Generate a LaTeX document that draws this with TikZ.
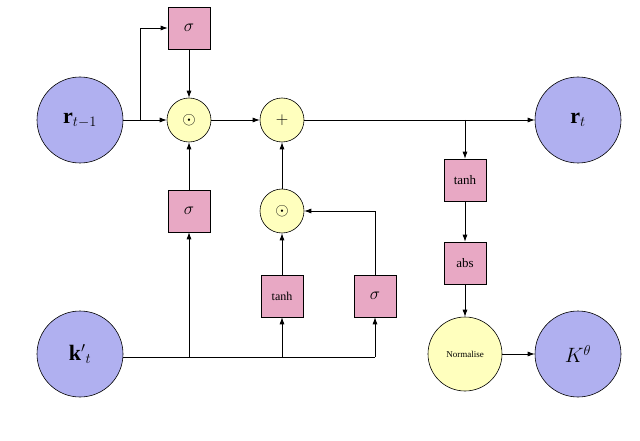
\documentclass[tikz,border=0pt]{standalone}
\usepackage{fontspec}
\setmainfont{Liberation Serif}
\usetikzlibrary{arrows.meta}
\definecolor{lav}{RGB}{176,176,240}
\definecolor{pinkb}{RGB}{232,168,196}
\definecolor{yel}{RGB}{255,255,190}
\begin{document}
\begin{tikzpicture}[x=1pt,y=-1pt,
  big/.style={circle,draw,line width=0.6pt,fill=lav,minimum size=86pt,inner sep=0pt,font=\fontsize{22}{26}\selectfont},
  op/.style={circle,draw,line width=0.6pt,fill=yel,minimum size=44pt,inner sep=0pt,font=\fontsize{18}{22}\selectfont},
  gate/.style={draw,line width=0.6pt,fill=pinkb,minimum size=42pt,inner sep=0pt,font=\fontsize{17}{20}\selectfont},
  arr/.style={-{Latex[length=7pt,width=5pt]},line width=0.7pt},
  ln/.style={line width=0.7pt}]
\useasboundingbox (0,0) rectangle (640,441);
\node[big] (rp) at (80,120) {$\mathbf{r}_{t-1}$};
\node[big] (rt) at (578,120) {$\mathbf{r}_{t}$};
\node[big] (k) at (80,354) {$\mathbf{k}'{}_t$};
\node[big] (K) at (578,354) {$K^{\theta}$};
\node[op] (m1) at (189,120) {$\odot$};
\node[op] (p) at (282,120) {$+$};
\node[op] (m2) at (282,211) {$\odot$};
\node[op,minimum size=74pt,font=\fontsize{9}{11}\selectfont] (n) at (465,354) {Normalise};
\node[gate] (s1) at (189,28) {$\sigma$};
\node[gate] (s2) at (189,211) {$\sigma$};
\node[gate,font=\fontsize{12}{14}\selectfont] (t1) at (282,296) {tanh};
\node[gate] (s3) at (375,296) {$\sigma$};
\node[gate,font=\fontsize{13}{15}\selectfont] (t2) at (465,180) {tanh};
\node[gate,font=\fontsize{13}{15}\selectfont] (ab) at (465,263) {abs};
\coordinate (b1) at (140,120);
\coordinate (b2) at (465,120);
\coordinate (kb1) at (189,357);
\coordinate (kb2) at (282,357);
\coordinate (kb3) at (375,357);
% recurrent path
\draw[arr] (rp) -- (m1);
\draw[arr] (b1) |- (s1.west);
\draw[arr] (s1) -- (m1);
\draw[arr] (m1) -- (p);
\draw[arr] (p) -- (rt);
\draw[arr] (b2) -- (t2);
\draw[arr] (t2) -- (ab);
\draw[arr] (ab) -- (n);
\draw[arr] (n) -- (K);
% input path
\draw[ln] (k.east |- kb3) -- (kb3);
\draw[arr] (kb1) -- (s2);
\draw[arr] (s2) -- (m1);
\draw[arr] (kb2) -- (t1);
\draw[arr] (t1) -- (m2);
\draw[arr] (m2) -- (p);
\draw[arr] (kb3) -- (s3);
\draw[arr] (s3.north) |- (m2.east);
\end{tikzpicture}
\end{document}
